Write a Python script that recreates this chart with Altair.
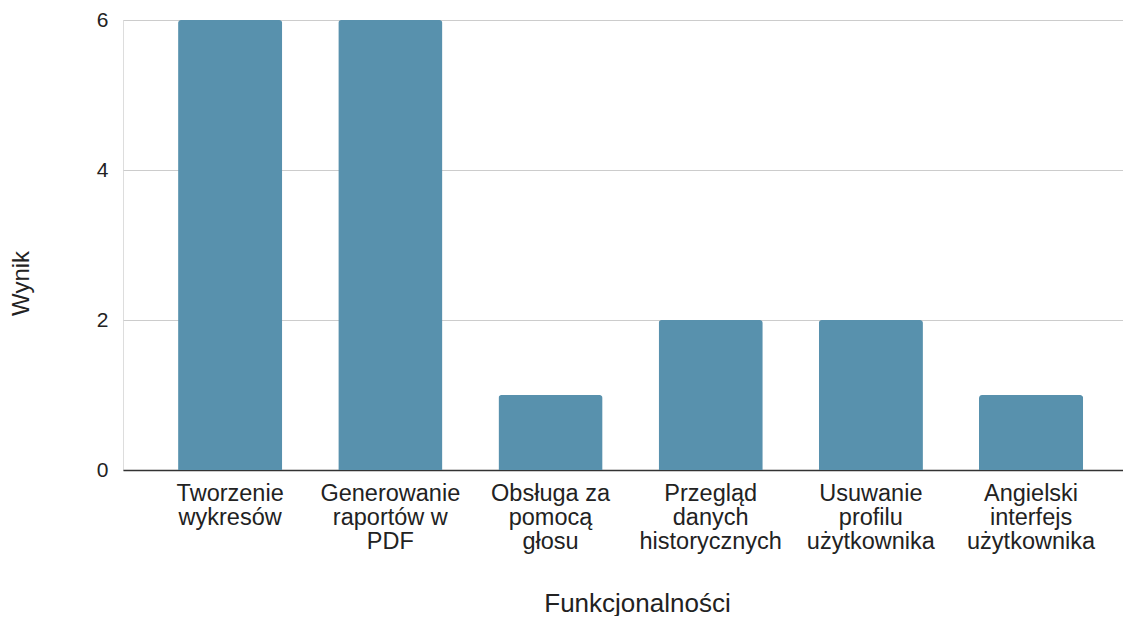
import altair as alt
import pandas as pd

categories = [
    "Tworzenie\nwykresów",
    "Generowanie\nraportów w\nPDF",
    "Obsługa za\npomocą\ngłosu",
    "Przegląd\ndanych\nhistorycznych",
    "Usuwanie\nprofilu\nużytkownika",
    "Angielski\ninterfejs\nużytkownika",
]
values = [6, 6, 1, 2, 2, 1]
y_ticks = [0, 2, 4, 6]

df = pd.DataFrame({"Funkcjonalności": categories, "Wynik": values})

FONT = "Liberation Sans"
TXT = "#222222"

chart = (
    alt.Chart(df)
    .mark_bar(color="#5891AD", cornerRadiusTopLeft=3, cornerRadiusTopRight=3)
    .encode(
        x=alt.X(
            "Funkcjonalności:N",
            sort=None,
            scale=alt.Scale(paddingInner=0.35, paddingOuter=0.2965, align=0.58),
            axis=alt.Axis(
                title="Funkcjonalności",
                labelExpr="split(datum.label, '\\n')",
                labelAngle=0,
                labelLimit=0,
                labelFont=FONT,
                labelFontSize=23.5,
                labelLineHeight=24,
                labelColor=TXT,
                labelBaseline="top",
                labelPadding=11,
                ticks=False,
                grid=False,
                domainColor="#333333",
                domainWidth=1.5,
                titleFont=FONT,
                titleFontSize=26,
                titleFontWeight="normal",
                titleColor=TXT,
                titleBaseline="middle",
                titleAlign="center",
                titleY=133,
                titleX=514,
            ),
        ),
        y=alt.Y(
            "Wynik:Q",
            scale=alt.Scale(domain=[0, 6], nice=False),
            axis=alt.Axis(
                title="Wynik",
                values=y_ticks,
                domain=False,
                ticks=False,
                gridColor="#cccccc",
                gridWidth=1.2,
                labelFont=FONT,
                labelFontSize=21,
                labelColor=TXT,
                labelPadding=15,
                titleFont=FONT,
                titleFontSize=24,
                titleFontWeight="normal",
                titleColor=TXT,
                titleBaseline="middle",
                titleAngle=-90,
                titleX=-102,
                titleY=263,
            ),
        ),
    )
    .properties(
        width=1000,
        height=450,
        autosize=alt.AutoSizeParams(type="none"),
        padding={"left": 115, "top": 12, "right": 0, "bottom": 146},
    )
    .configure_view(stroke="transparent", strokeOpacity=0)
    .configure(background="white")
)

chart.save("out.html", embed_options={"renderer": "svg", "actions": False})
